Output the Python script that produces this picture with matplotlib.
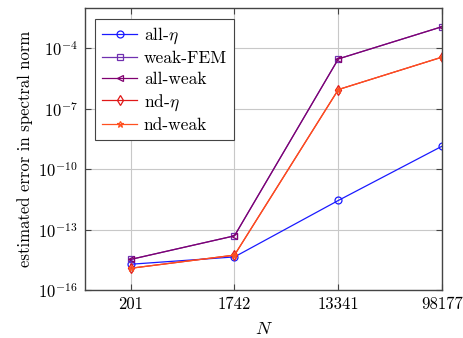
import matplotlib
matplotlib.use("Agg")
import matplotlib.pyplot as plt
from matplotlib.ticker import NullLocator

plt.rcParams["font.family"] = "serif"
plt.rcParams["font.serif"] = ["cmr10"]
plt.rcParams["mathtext.fontset"] = "cm"
plt.rcParams["axes.formatter.use_mathtext"] = True

# problem sizes on the x axis (equally spaced, symbolic coordinates)
sizes = ["201", "1742", "13341", "98177"]

# estimated errors per method
all_eta = [1.9e-15, 4.4e-15, 2.8e-12, 1.4e-9]
weak_fem = [3.3e-15, 4.9e-14, 3.0e-5, 1.2e-3]
all_weak = [3.3e-15, 4.9e-14, 3.0e-5, 1.2e-3]
nd_eta = [1.2e-15, 5.4e-15, 9.0e-7, 3.7e-5]
nd_weak = [1.2e-15, 5.4e-15, 9.0e-7, 3.7e-5]

labels = ["all-$\\eta$", "weak-FEM", "all-weak", "nd-$\\eta$", "nd-weak"]
series = [all_eta, weak_fem, all_weak, nd_eta, nd_weak]
colors = ["#1a1aff", "#7030b0", "#800070", "#e01818", "#ff5020"]
markers = ["o", "s", "<", "d", "*"]
msizes = [5, 5, 4.5, 5, 4.5]

fig = plt.figure(figsize=(4.64, 3.38), dpi=100)
ax = fig.add_axes([0.183, 0.142, 0.770, 0.834])

xs = list(range(len(sizes)))
for ys, lab, col, mk, ms in zip(series, labels, colors, markers, msizes):
    ax.plot(xs, ys, color=col, marker=mk, markersize=ms,
            markerfacecolor="none", markeredgecolor=col, markeredgewidth=0.9,
            linewidth=0.9, label=lab)

ax.set_yscale("log")
ax.set_ylim(1e-16, 1e-2)
ax.set_xlim(-0.44, 3.0)
ax.set_yticks([1e-16, 1e-13, 1e-10, 1e-7, 1e-4])
ax.yaxis.set_minor_locator(NullLocator())
ax.set_xticks(xs)
ax.set_xticklabels(sizes)

ax.grid(True, color="#c8c8c8", linewidth=0.8)
ax.set_axisbelow(True)
ax.tick_params(direction="in", top=True, right=True, length=4, labelsize=12,
               color="#444444", pad=5)
for sp in ax.spines.values():
    sp.set_color("#444444")
    sp.set_linewidth(1.0)

ax.set_xlabel("$N$", fontsize=13, labelpad=6)
ax.set_ylabel("estimated error in spectral norm", fontsize=12)

leg = ax.legend(loc="upper left", fontsize=12.5, frameon=True, fancybox=False,
                edgecolor="#444444", framealpha=1.0, borderaxespad=0.6,
                handlelength=2.0, labelspacing=0.3, borderpad=0.4,
                handletextpad=0.4)
leg.get_frame().set_linewidth(0.8)

fig.savefig("out.png", dpi=100)
